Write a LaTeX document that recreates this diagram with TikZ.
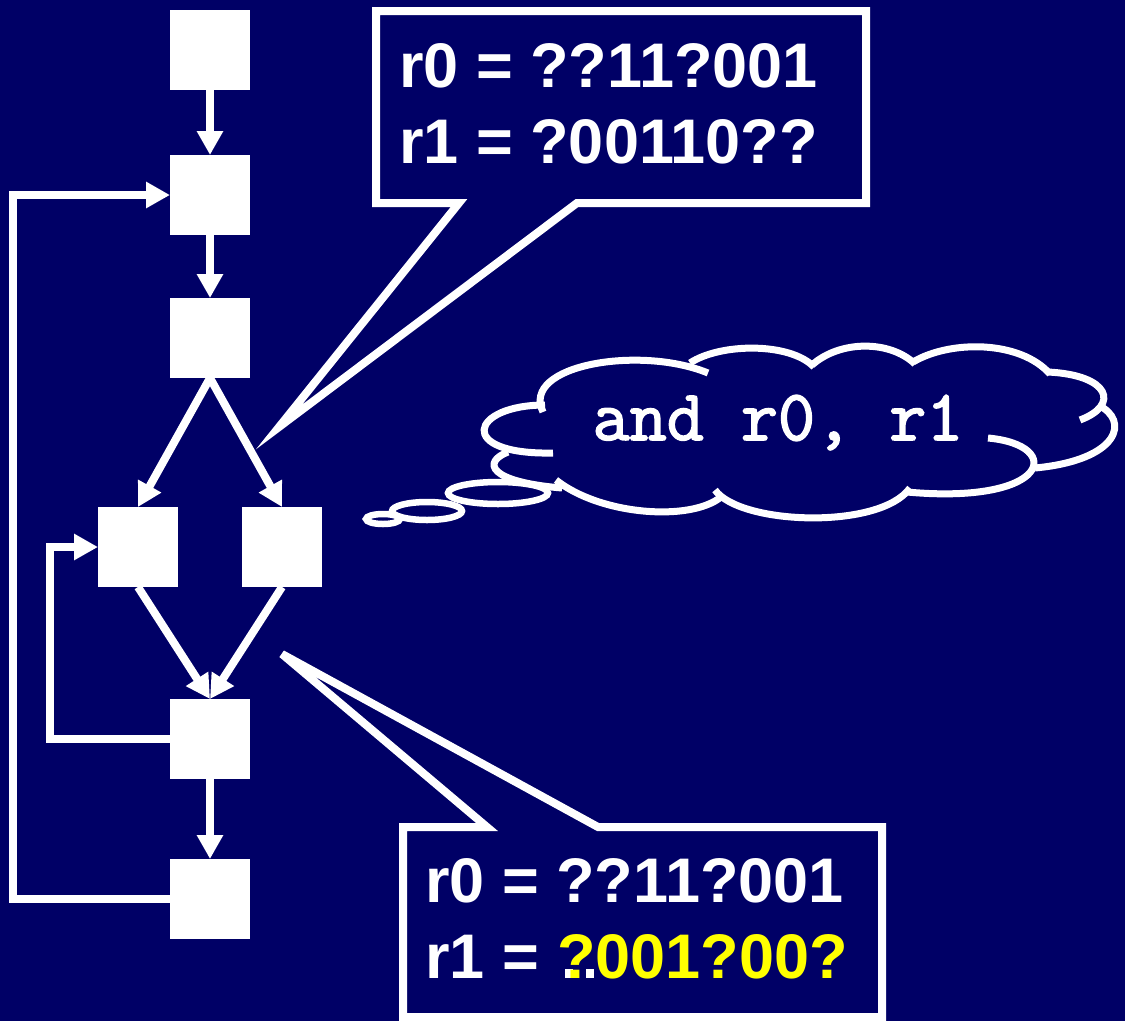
\documentclass[tikz,border=0pt]{standalone}
\usepackage{fontspec}
\setmainfont{Liberation Sans}
\newfontfamily\codefont{Latin Modern Mono}[FakeBold=2.2]
\usetikzlibrary{arrows.meta}
\definecolor{navy}{RGB}{0,0,102}
\definecolor{hilite}{RGB}{255,255,0}
\begin{document}
\begin{tikzpicture}[x=1pt,y=-1pt,
  block/.style={fill=white,minimum width=80pt,minimum height=80pt,inner sep=0pt,outer sep=0pt},
  flow/.style={draw=white,line width=8pt,-{Triangle[width=25pt,length=24pt]}},
  callout/.style={draw=white,line width=8pt},
  cloudline/.style={draw=white,line width=7pt},
  bubble/.style={draw=white,line width=6.5pt},
  bits/.style={text=white,font=\fontsize{63}{76}\selectfont\bfseries,anchor=base west,inner sep=0pt},
  code/.style={text=white,font=\fontsize{72}{80}\selectfont\codefont\bfseries,anchor=base,inner sep=0pt}]

% background and page size
\fill[navy] (0,0) rectangle (1125,1021);
\useasboundingbox (0,0) rectangle (1125,1021);

% control-flow blocks
\node[block] (b1) at (210,50) {};
\node[block] (b2) at (210,195) {};
\node[block] (b3) at (210,338) {};
\node[block] (bl) at (138,547) {};
\node[block] (br) at (282,547) {};
\node[block] (b5) at (210,739) {};
\node[block] (b6) at (210,899) {};

% edges
\draw[flow] (b1.south) -- (b2.north);
\draw[flow] (b2.south) -- (b3.north);
\draw[flow] (b3.south) -- (bl.north);
\draw[flow] (b3.south) -- (br.north);
\draw[flow] (bl.south) -- (b5.north);
\draw[flow] (br.south) -- (b5.north);
\draw[flow] (b5.south) -- (b6.north);
\draw[flow] (b5.west) -- ++(-120,0) |- (bl.west);
\draw[flow] (b6.west) -- ++(-157,0) |- (b2.west);

% upper callout
\draw[callout] (376,11) -- (866,11) -- (866,203) -- (577,203) -- (279,427)
  -- (459,203) -- (376,203) -- cycle;
\node[bits] (t1) at (399,87) {r0 = ??11?001};
\node[bits] (t2) at (399,163) {r1 = ?00110??};

% lower callout
\draw[callout] (403,827) -- (487,827) -- (282,654) -- (598,827) -- (882,827)
  -- (882,1017) -- (403,1017) -- cycle;
\node[bits] (u1) at (425,902) {r0 = ??11?001};
\node[bits] (u2) at (425,978) {r1 =};
% leftover dots under the highlighted value
\fill[white] (565,969) rectangle (573,978);
\fill[white] (586,969) rectangle (594,978);
\node[bits,text=hilite] (u3) at (557,978) {?001?00?};

% thought cloud
\draw[cloudline] (545,405) .. controls (470,405) and (455,455) .. (553,453);
\draw[cloudline] (508,452) .. controls (482,462) and (488,482) .. (562,488);
\draw[cloudline] (556,480) .. controls (600,515) and (690,522) .. (721,497);
\draw[cloudline] (715,490) .. controls (740,525) and (880,530) .. (910,488);
\draw[cloudline] (988,438) .. controls (1065,445) and (1050,505) .. (907,492);
\draw[cloudline] (1098,405) .. controls (1130,420) and (1120,460) .. (1035,468);
\draw[cloudline] (1048,372) .. controls (1110,375) and (1120,405) .. (1080,420);
\draw[cloudline] (913,362) .. controls (950,340) and (1020,340) .. (1050,374);
\draw[cloudline] (812,365) .. controls (840,340) and (890,340) .. (915,364);
\draw[cloudline] (690,363) .. controls (720,343) and (790,342) .. (814,367);
\draw[cloudline] (543,412) .. controls (520,365) and (640,345) .. (708,373);
\node[code] (op) at (778,440) {and r0, r1};

% trailing bubbles
\draw[bubble] (498,493) ellipse [x radius=50, y radius=11];
\draw[bubble] (427,511) ellipse [x radius=35, y radius=9];
\draw[bubble] (383,519) ellipse [x radius=17, y radius=5];
\end{tikzpicture}
\end{document}
